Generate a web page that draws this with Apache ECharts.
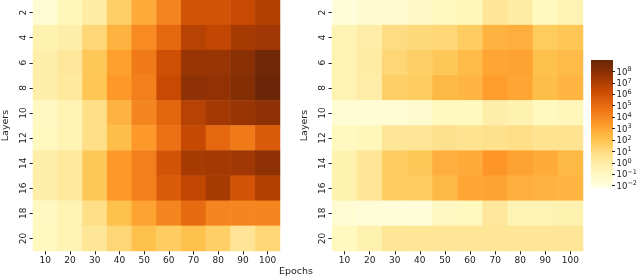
<!DOCTYPE html>
<html>
<head>
<meta charset="utf-8">
<script src="https://cdn.jsdelivr.net/npm/echarts@6/dist/echarts.min.js"></script>
<style>html,body{margin:0;padding:0;background:#fff}#c{width:640px;height:280px}</style>
</head>
<body>
<div id="c"></div>
<script>
// Categories
const epochs = ['10','20','30','40','50','60','70','80','90','100'];
const layers = ['2','4','6','8','10','12','14','16','18','20'];
// Colorbar tick exponents (labels 10^n)
const cbarExponents = [-2,-1,0,1,2,3,4,5,6,7,8];
const cbarMin = -2.2, cbarMax = 9.0;

// log10 of the plotted value; rows = layers (top to bottom), cols = epochs
const leftLog = [
  [-1.6,-0.7, 0.0, 1.5, 2.8, 4.1, 5.9, 5.9, 6.3, 6.9],
  [-0.4,-0.2, 1.2, 2.6, 3.9, 5.1, 6.8, 6.5, 7.2, 7.4],
  [-0.2, 0.3, 1.8, 3.2, 4.5, 6.1, 7.6, 7.6, 8.0, 8.7],
  [-0.2, 0.2, 1.9, 3.4, 4.3, 6.3, 7.9, 7.8, 8.2, 8.9],
  [-1.0,-0.5, 0.8, 2.6, 4.1, 5.2, 6.8, 7.3, 7.6, 7.9],
  [-0.9,-0.5, 0.8, 2.2, 3.4, 4.8, 6.4, 5.1, 4.5, 5.6],
  [-0.2, 0.2, 1.8, 3.4, 4.3, 5.9, 7.2, 7.3, 7.4, 7.9],
  [-0.2, 0.2, 1.8, 3.4, 4.3, 5.6, 6.5, 7.2, 5.9, 6.9],
  [-1.0,-0.5, 0.8, 2.1, 3.1, 4.1, 5.0, 4.1, 4.1, 4.1],
  [-0.9,-0.5, 0.4, 1.2, 2.1, 1.6, 2.1, 1.5, 0.5, 1.2]
];
const rightLog = [
  [-1.8,-1.5,-1.5,-1.2,-0.9,-0.7, 0.4, 0.0,-0.9,-0.5],
  [-0.5,-0.1, 0.9, 1.1, 1.2, 1.6, 2.6, 2.7, 1.7, 1.9],
  [-0.5, 0.0, 1.2, 1.5, 1.8, 2.3, 3.0, 3.1, 2.1, 2.3],
  [-0.5,-0.1, 1.5, 1.6, 2.4, 2.5, 3.3, 3.0, 2.2, 2.5],
  [-1.6,-1.6,-1.6,-1.5,-0.9,-0.9,-0.2,-0.4,-0.9,-0.7],
  [-0.9,-0.7, 0.4, 0.4, 0.7, 0.6, 0.7, 0.8, 0.6, 0.6],
  [-0.4, 0.4, 1.6, 1.8, 2.7, 2.8, 3.5, 3.1, 2.8, 2.4],
  [-0.4, 0.4, 1.6, 1.6, 2.4, 3.0, 3.1, 2.7, 2.6, 2.5],
  [-1.6,-1.8,-1.8,-1.8,-1.0,-0.9, 0.3,-0.5,-0.5,-0.4],
  [-0.9,-0.4, 0.4, 0.4, 0.4, 0.4, 0.4, 0.4, 0.4, 0.4]
];

const YlOrBr = ['#ffffe5','#fff7bc','#fee391','#fec44f','#fe9929','#ec7014','#cc4c02','#993404','#662506'];
const FONT = 'DejaVu Sans';
const TXT = '#222';

function toCells(m) {
  const out = [];
  m.forEach((row, r) => row.forEach((v, c) => out.push([c, r, v])));
  return out;
}

function xAx(gi) {
  return {
    type: 'category', gridIndex: gi, data: epochs,
    axisLine: {show: false},
    axisTick: {show: true, alignWithLabel: true, length: 3.5, lineStyle: {color: TXT, width: 1}},
    axisLabel: {fontFamily: FONT, fontSize: 9, color: TXT, margin: 5},
    splitLine: {show: false}
  };
}
function yAx(gi) {
  return {
    type: 'category', gridIndex: gi, data: layers, inverse: true,
    name: 'Layers', nameLocation: 'middle', nameGap: 22, nameRotate: 90,
    nameTextStyle: {fontFamily: FONT, fontSize: 9.5, color: TXT},
    axisLine: {show: false},
    axisTick: {show: true, alignWithLabel: true, length: 3.5, lineStyle: {color: TXT, width: 1}},
    axisLabel: {fontFamily: FONT, fontSize: 9, color: TXT, rotate: 90, margin: 5},
    splitLine: {show: false}
  };
}

function supFmt(v) {
  const n = Math.round(v);
  const s = n < 0 ? '\u2212' + (-n) : String(n);
  return '{b|10}{s|' + s + '}';
}

const cbar = {x: 591, y: 60, w: 22, h: 128};

const chart = echarts.init(document.getElementById('c'), null, {renderer: 'canvas'});
chart.setOption({
  animation: false,
  backgroundColor: '#fff',
  grid: [
    {left: 27.5, top: 0, width: 252.5, height: 251},
    {left: 332, top: 0, width: 251, height: 251},
    {left: cbar.x + cbar.w - 1, top: cbar.y, width: 1, height: cbar.h}
  ],
  xAxis: [xAx(0), xAx(1),
    {type: 'value', gridIndex: 2, show: false, min: 0, max: 1}],
  yAxis: [yAx(0), yAx(1),
    {type: 'value', gridIndex: 2, position: 'right', min: cbarMin, max: cbarMax,
     axisLine: {show: false}, splitLine: {show: false},
     axisTick: {show: true, length: 3, customValues: cbarExponents, lineStyle: {color: TXT}},
     axisLabel: {show: true, margin: 4, customValues: cbarExponents, formatter: supFmt,
       rich: {
         b: {fontFamily: FONT, fontSize: 8.5, color: TXT, verticalAlign: 'bottom', lineHeight: 11},
         s: {fontFamily: FONT, fontSize: 6.5, color: TXT, verticalAlign: 'top', lineHeight: 7}
       }}
    }],
  visualMap: {
    type: 'continuous', min: cbarMin, max: cbarMax, seriesIndex: [0, 1],
    show: false, inRange: {color: YlOrBr}
  },
  graphic: [
    {
      type: 'rect', silent: true,
      shape: {x: cbar.x, y: cbar.y, width: cbar.w, height: cbar.h},
      style: {
        fill: new echarts.graphic.LinearGradient(0, 1, 0, 0,
          YlOrBr.map((c, i) => ({offset: i / (YlOrBr.length - 1), color: c})))
      }
    },
    {
      type: 'text', left: 279, top: 267,
      style: {text: 'Epochs', fontFamily: FONT, fontSize: 9.5, fill: TXT}
    }
  ],
  series: [
    {type: 'heatmap', xAxisIndex: 0, yAxisIndex: 0, data: toCells(leftLog), itemStyle: {borderWidth: 0}},
    {type: 'heatmap', xAxisIndex: 1, yAxisIndex: 1, data: toCells(rightLog), itemStyle: {borderWidth: 0}}
  ]
});
</script>
</body>
</html>
